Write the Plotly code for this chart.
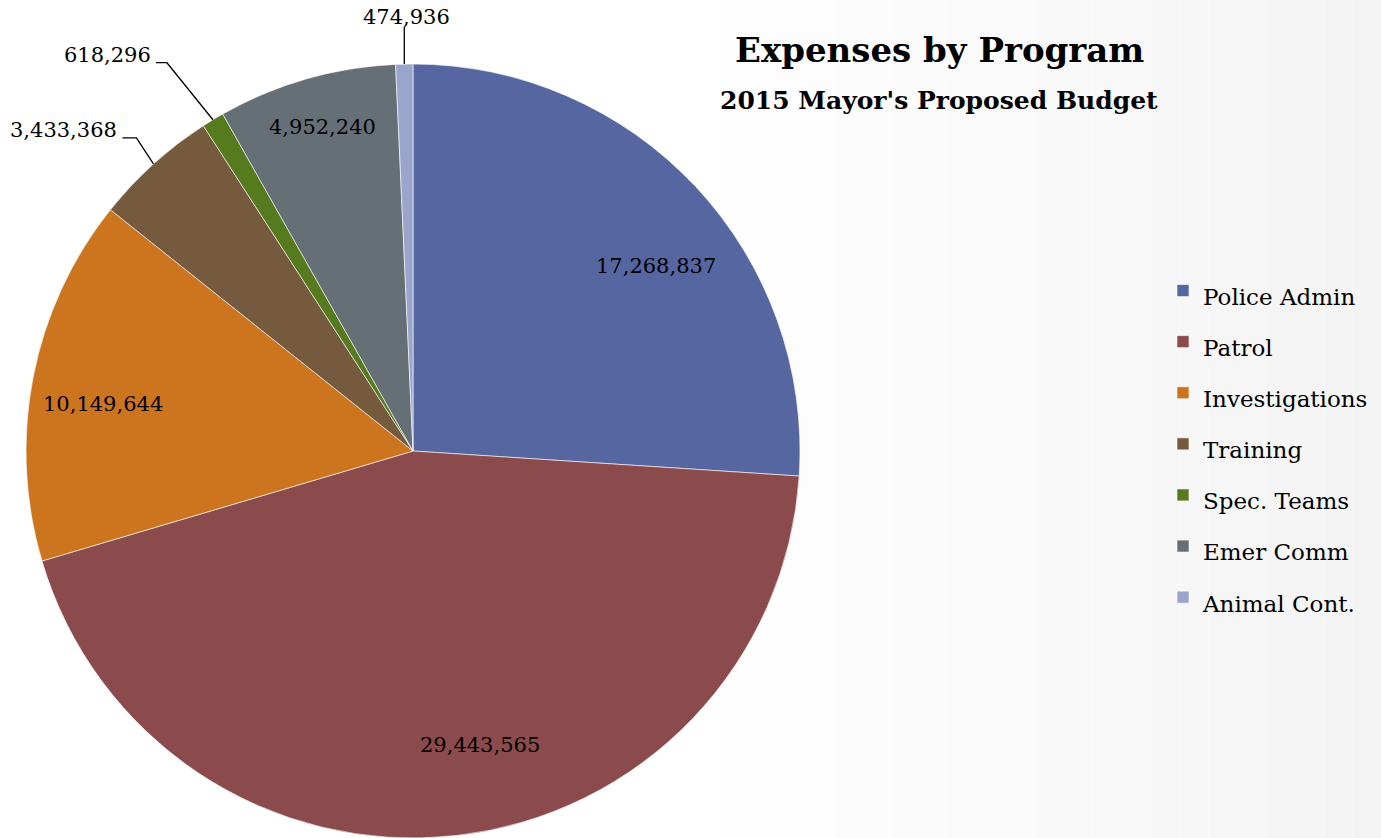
import math
import plotly.graph_objects as go

programs = ["Police Admin", "Patrol", "Investigations", "Training",
            "Spec. Teams", "Emer Comm", "Animal Cont."]
expenses = [17268837, 29443565, 10149644, 3433368, 618296, 4952240, 474936]
colors = ["#5566a0", "#8b4a4c", "#cc751e", "#765a3e", "#567a1e", "#676f76", "#99a5cb"]

W, H = 1381, 838
CX, CY, R = 413, 451, 387
FONT = "DejaVu Serif"


def px(x):
    return x / W


def py(y):
    return 1 - y / H


# where the value labels sit: inside ones as (radius fraction, angle nudge),
# outside ones as leader-line elbows (dx, dy, horizontal run) or a plain vertical tick
inside_pos = {"Police Admin": (0.79, 5.9), "Patrol": (0.78, -6.4),
              "Investigations": (0.81, -2.4), "Emer Comm": (0.87, 0.4)}
outside_pos = {"Training": (-17, -26, -14), "Spec. Teams": (-46, -57, -11), "Animal Cont.": None}

fig = go.Figure(go.Pie(
    labels=[f'<span style="font-size:23px">{p}</span>' for p in programs],
    values=expenses,
    marker=dict(colors=colors, line=dict(color="white", width=0.6)),
    sort=False,
    direction="clockwise",
    rotation=0,
    textinfo="none",
    hovertemplate="%{value:,}<extra></extra>",
    domain=dict(x=[(CX - R) / W, (CX + R) / W], y=[0, 2 * R / H]),
))

shapes = []
# soft grey gradient toward the right side
n = 24
for i in range(n):
    g = int(round(255 - 11 * (i + 1) / n))
    shapes.append(dict(type="rect", xref="paper", yref="paper", layer="below",
                       x0=0.5 + 0.5 * i / n, x1=0.5 + 0.5 * (i + 1) / n, y0=0, y1=1,
                       line=dict(width=0), fillcolor=f"rgb({g},{g},{g})"))

annotations = [
    dict(text="<b>Expenses by Program</b>", x=px(939), y=py(50), xref="paper", yref="paper",
         xanchor="center", yanchor="middle", showarrow=False,
         font=dict(family=FONT, size=34, color="black")),
    dict(text="<b>2015 Mayor's Proposed Budget</b>", x=px(939), y=py(100), xref="paper",
         yref="paper", xanchor="center", yanchor="middle", showarrow=False,
         font=dict(family=FONT, size=25, color="black")),
]

label_font = dict(family=FONT, size=21, color="black")
total = sum(expenses)
start = 0.0
for name, val in zip(programs, expenses):
    span = 360 * val / total
    mid_deg = start + span / 2
    start += span
    lab = f"{val:,}"
    if name in inside_pos:
        frac, nudge = inside_pos[name]
        a = math.radians(mid_deg + nudge)
        lx, ly = CX + frac * R * math.sin(a), CY - frac * R * math.cos(a)
        annotations.append(dict(text=lab, x=px(lx), y=py(ly), xref="paper", yref="paper",
                                xanchor="center", yanchor="middle", showarrow=False,
                                font=label_font))
        continue
    mid = math.radians(mid_deg)
    ex, ey = CX + R * math.sin(mid), CY - R * math.cos(mid)
    if outside_pos[name] is None:
        top = ey - 37
        shapes.append(dict(type="line", xref="paper", yref="paper",
                           x0=px(ex), y0=py(ey), x1=px(ex), y1=py(top),
                           line=dict(color="black", width=1.3)))
        annotations.append(dict(text=lab, x=px(ex + 2), y=py(top + 4), xref="paper", yref="paper",
                                xanchor="center", yanchor="bottom", showarrow=False,
                                font=label_font))
    else:
        dx, dy, hx = outside_pos[name]
        kx, ky = ex + dx, ey + dy
        hx_end = kx + hx
        shapes.append(dict(type="path", xref="paper", yref="paper",
                           path=f"M {px(ex)},{py(ey)} L {px(kx)},{py(ky)} L {px(hx_end)},{py(ky)}",
                           line=dict(color="black", width=1.3)))
        annotations.append(dict(text=lab, x=px(hx_end - 3), y=py(ky - 8), xref="paper", yref="paper",
                                xanchor="right", yanchor="middle", showarrow=False,
                                font=label_font))

fig.update_layout(
    width=W, height=H,
    margin=dict(l=0, r=0, t=0, b=0),
    paper_bgcolor="white",
    plot_bgcolor="white",
    shapes=shapes,
    annotations=annotations,
    legend=dict(x=px(1163), y=py(444), xanchor="left", yanchor="middle",
                font=dict(family=FONT, size=37, color="black"),
                bgcolor="rgba(0,0,0,0)"),
)

fig.write_html("out.html", config={"displayModeBar": False},
               post_script="document.body.style.margin='0';")
